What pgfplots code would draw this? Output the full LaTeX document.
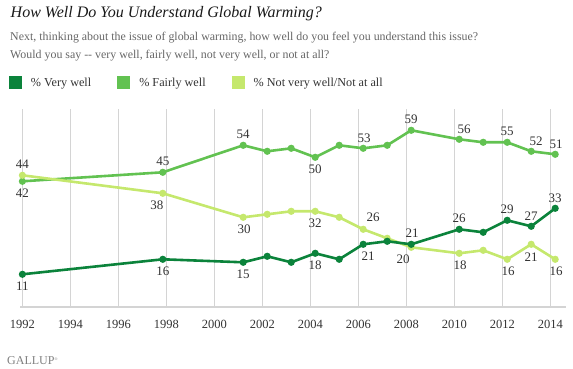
\documentclass[border=0pt]{standalone}
\usepackage{pgfplots}
\usepackage{pgfplotstable}
\pgfplotsset{compat=1.18}
\usepackage{fontspec}
\setmainfont{Liberation Serif}
\definecolor{cvery}{HTML}{0B833B}
\definecolor{cfair}{HTML}{62C251}
\definecolor{cnot}{HTML}{C5E86D}
\definecolor{txtgray}{HTML}{666666}
\definecolor{lbl}{HTML}{333333}

\pgfplotstableread{
x y
1992.0 11
1997.85 16
2001.2 15
2002.2 17
2003.2 15
2004.2 18
2005.2 16
2006.2 21
2007.2 22
2008.2 21
2010.2 26
2011.2 25
2012.2 29
2013.2 27
2014.2 33
}\verywell
\pgfplotstableread{
x y
1992.0 42
1997.85 45
2001.2 54
2002.2 52
2003.2 53
2004.2 50
2005.2 54
2006.2 53
2007.2 54
2008.2 59
2010.2 56
2011.2 55
2012.2 55
2013.2 52
2014.2 51
}\fairlywell
\pgfplotstableread{
x y
1992.0 44
1997.85 38
2001.2 30
2002.2 31
2003.2 32
2004.2 32
2005.2 30
2006.2 26
2007.2 23
2008.2 20
2010.2 18
2011.2 19
2012.2 16
2013.2 21
2014.2 16
}\notwell
% labelled points: x y dx dy
\pgfplotstableread{
x y dx dy
1992.0 11 0 -11.5
1997.85 16 0 -11.5
2001.2 15 0 -12
2004.2 18 0 -11.5
2006.2 21 5 -12
2008.2 21 1 11.5
2010.2 26 0 11.5
2012.2 29 0 11.5
2013.2 27 0 10.5
2014.2 33 0 10.5
}\verywelllab
\pgfplotstableread{
x y dx dy
1992.0 42 0 -11.5
1997.85 45 0 11
2001.2 54 0 11
2004.2 50 0 -11.5
2006.2 53 1 10
2008.2 59 0 11
2010.2 56 5 10.5
2012.2 55 0 10.5
2013.2 52 5 10.5
2014.2 51 1 10.5
}\fairlywelllab
\pgfplotstableread{
x y dx dy
1992.0 44 0 11.5
1997.85 38 -6 -11.5
2001.2 30 1 -11.5
2004.2 32 0 -11.5
2006.2 26 10 12
2008.2 20 -8 -12
2010.2 18 1 -11.5
2012.2 16 1 -11.5
2013.2 21 0 -12.5
2014.2 16 1 -11.5
}\notwelllab

\pgfplotsset{
  datalabels/.style={draw=none, mark=none, forget plot, nodes near coords, point meta=y,
    visualization depends on={\thisrow{dx} \as \dx},
    visualization depends on={\thisrow{dy} \as \dy},
    nodes near coords style={anchor=center, inner sep=0pt, text=lbl,
      font=\fontsize{13}{13}\selectfont, xshift=\dx*1pt, yshift=\dy*1pt}},
  series/.style={color=#1, line width=2.6pt, mark=*, mark size=2.2pt, forget plot},
}

\begin{document}
\begin{tikzpicture}[x=1pt,y=1pt]
\path[use as bounding box] (0,0) rectangle (573,369);
% title and subtitle
\node[anchor=base west, inner sep=0, text=black!90] at (10.5,351)
  {\fontsize{16}{16}\selectfont\itshape How Well Do You Understand Global Warming?};
\node[anchor=base west, inner sep=0, text=txtgray] at (10,328.3)
  {\fontsize{11.9}{11.9}\selectfont Next, thinking about the issue of global warming, how well do you feel you understand this issue?};
\node[anchor=base west, inner sep=0, text=txtgray] at (10,310)
  {\fontsize{11.9}{11.9}\selectfont Would you say -{}- very well, fairly well, not very well, or not at all?};
% Gallup
\node[anchor=base west, inner sep=0, text=black!50] at (7,4.5)
  {\fontsize{12}{12}\selectfont GALLUP\raisebox{4pt}{\fontsize{4}{4}\selectfont ®}};

\begin{axis}[
  at={(20pt,61.7pt)}, anchor=south west,
  x=24pt, y=3pt,
  xmin=1991.9, xmax=2014.64, ymin=0, ymax=66,
  clip=false,
  axis x line*=bottom,
  axis y line=none,
  x axis line style={draw=black!17, line width=1.8pt, -},
  xtick={1992,1994,...,2014},
  major tick length=0pt,
  xmajorgrids,
  grid style={draw=black!17, line width=0.8pt},
  /pgf/number format/assume math mode=true,
  /pgf/number format/1000 sep={},
  xticklabel style={anchor=base, yshift=-21.7pt, text=lbl,
    font=\fontsize{12.5}{12.5}\selectfont},
  legend columns=3,
  legend style={draw=none, fill=none, inner sep=0pt, outer sep=0pt,
    at={(axis description cs:-0.0202,1.1328)}, anchor=west,
    font=\fontsize{12.2}{12.2}\selectfont, text=lbl,
    /tikz/every odd column/.append style={column sep=7pt},
    /tikz/every even column/.append style={column sep=24pt}},
  legend image code/.code={\fill[#1, draw=none] (0pt,-6pt) rectangle (13pt,6.5pt);},
]
\addlegendimage{color=cvery}
\addlegendentry{\% Very well}
\addlegendimage{color=cfair}
\addlegendentry{\% Fairly well}
\addlegendimage{color=cnot}
\addlegendentry{\% Not very well/Not at all}

\addplot[series=cfair] table[x=x,y=y] {\fairlywell};
\addplot[series=cnot] table[x=x,y=y] {\notwell};
\addplot[series=cvery] table[x=x,y=y] {\verywell};

\addplot[datalabels] table[x=x,y=y] {\verywelllab};
\addplot[datalabels] table[x=x,y=y] {\fairlywelllab};
\addplot[datalabels] table[x=x,y=y] {\notwelllab};
\end{axis}
\end{tikzpicture}
\end{document}
